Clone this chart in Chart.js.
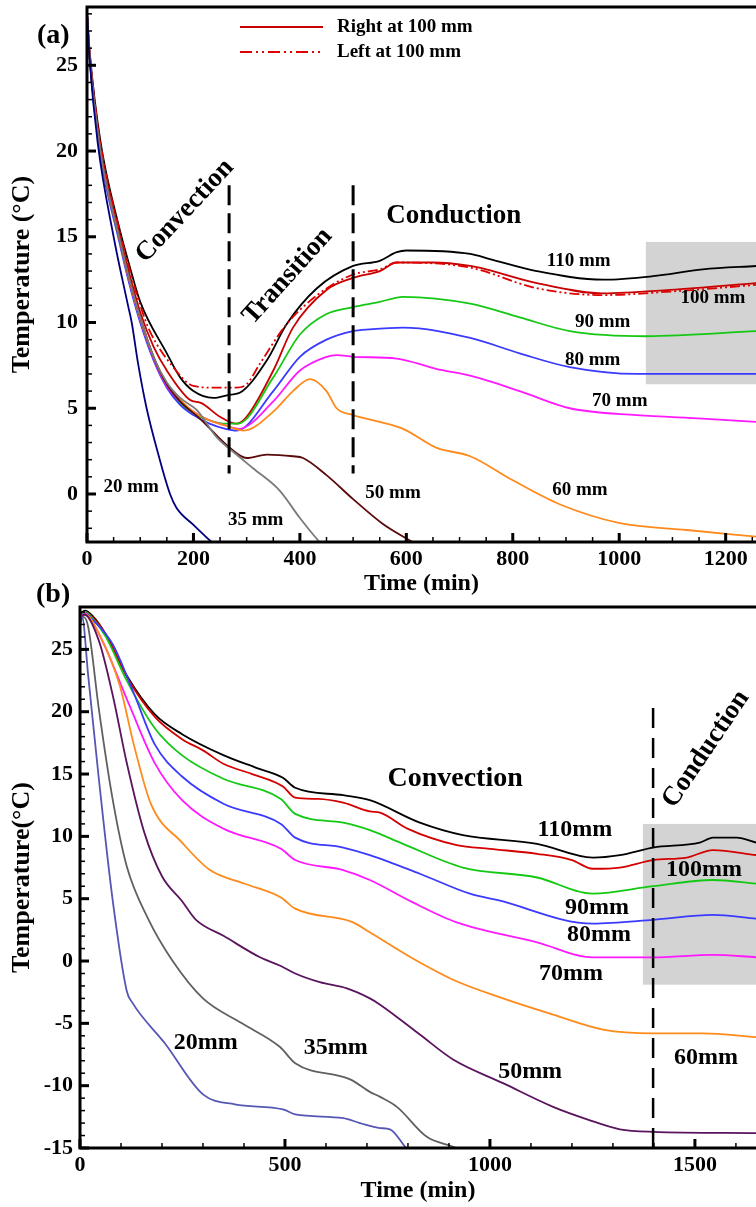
<!DOCTYPE html>
<html>
<head>
<meta charset="utf-8">
<script src="https://cdn.jsdelivr.net/npm/chart.js@4/dist/chart.umd.min.js"></script>
<style>
  body { margin: 0; background: #fff; }
  #wrap { position: relative; width: 756px; height: 1207px; overflow: hidden; background: #fff; }
  canvas { position: absolute; left: 0; }
  .tag { position: absolute; font: bold 28px "Liberation Serif", "Times New Roman", serif; line-height: 1; }
</style>
</head>
<body>
<div id="wrap">
  <canvas id="chartA" width="756" height="600" style="top:0"></canvas>
  <canvas id="chartB" width="756" height="607" style="top:600px"></canvas>
  <div class="tag" style="left:37px;top:20px">(a)</div>
  <div class="tag" style="left:36px;top:579px">(b)</div>
</div>
<script>
// ---- panel (a) data: time (min) / temperature (°C) ----
const a20Time = [0, 5, 20, 50, 77, 84, 96, 112, 135, 156, 168, 200, 234, 260];
const a20Temp = [28, 25.3, 20.5, 15.0, 11.0, 10.0, 7.6, 5.0, 2.2, 0, -0.8, -1.8, -2.8, -3.5];
const a35Time = [0, 5, 25, 60, 80, 100, 125, 150, 175, 206, 244, 281, 312, 362, 400, 437, 450];
const a35Temp = [28, 25.5, 20, 15, 12.5, 10.3, 8.0, 6.5, 5.6, 4.9, 3.3, 2.3, 1.5, 0.2, -1.4, -2.8, -3.2];
const a50Time = [0, 5, 25, 60, 80, 100, 125, 150, 175, 212, 268, 300, 338, 387, 406, 450, 500, 556, 612, 630];
const a50Temp = [28, 25.5, 20, 15, 12.5, 10.3, 8.0, 6.4, 5.4, 4.4, 2.7, 2.1, 2.3, 2.2, 2.1, 1.1, -0.3, -1.75, -2.8, -3.1];
const a60Time = [0, 5, 25, 60, 80, 100, 125, 150, 175, 200, 230, 260, 295, 350, 387, 419, 450, 469, 500, 550, 594, 656, 720, 800, 888, 1001, 1127, 1260];
const a60Temp = [28, 25.5, 20, 15, 12.4, 10.2, 8.0, 6.4, 5.5, 4.8, 4.3, 4.0, 3.7, 4.8, 6.0, 6.7, 6.0, 5.0, 4.6, 4.2, 3.8, 2.7, 2.2, 0.8, -0.6, -1.7, -2.1, -2.5];
const a70Time = [0, 5, 25, 60, 80, 100, 125, 150, 175, 200, 230, 260, 285, 350, 400, 450, 469, 500, 582, 656, 720, 813, 907, 1033, 1157, 1260];
const a70Temp = [28, 25.5, 20, 15, 12.4, 10.2, 7.9, 6.3, 5.4, 4.8, 4.3, 4.0, 3.8, 5.4, 7.2, 8.0, 8.1, 8.0, 7.9, 7.3, 6.9, 6.0, 5.0, 4.6, 4.4, 4.2];
const a80Time = [0, 5, 25, 60, 80, 100, 125, 150, 175, 200, 230, 260, 281, 350, 400, 450, 500, 531, 594, 720, 813, 907, 1033, 1260];
const a80Temp = [28, 25.4, 19.8, 14.8, 12.2, 10.0, 7.8, 6.2, 5.2, 4.6, 4.1, 3.8, 3.7, 6.0, 8.0, 9.0, 9.5, 9.6, 9.7, 9.1, 8.2, 7.4, 7.0, 7.0];
const a90Time = [0, 5, 25, 60, 80, 100, 125, 150, 175, 200, 230, 260, 283, 350, 400, 450, 500, 550, 594, 720, 813, 907, 1052, 1260];
const a90Temp = [28, 25.5, 20, 15, 12.4, 10.2, 7.9, 6.3, 5.3, 4.7, 4.3, 4.1, 4.1, 6.8, 9.3, 10.5, 10.9, 11.2, 11.5, 11.1, 10.3, 9.5, 9.2, 9.5];
const a100RTime = [0, 5, 25, 60, 80, 100, 125, 150, 193, 215, 250, 281, 300, 350, 387, 450, 500, 550, 582, 650, 720, 750, 845, 970, 1095, 1260];
const a100RTemp = [28, 25.6, 20.3, 15.3, 12.8, 10.6, 8.6, 7.2, 5.5, 5.3, 4.5, 4.1, 4.5, 7.2, 9.7, 11.9, 12.6, 13.0, 13.5, 13.5, 13.3, 13.1, 12.3, 11.7, 11.9, 12.3];
const a100LTime = [0, 5, 25, 60, 80, 100, 118, 162, 200, 240, 280, 300, 325, 375, 437, 500, 550, 582, 720, 845, 970, 1095, 1260];
const a100LTemp = [28, 25.7, 20.5, 15.5, 13.1, 11.0, 9.5, 7.4, 6.3, 6.2, 6.2, 6.4, 7.6, 9.9, 11.7, 12.8, 13.1, 13.5, 13.2, 12.0, 11.6, 11.8, 12.2];
const a110Time = [0, 5, 25, 60, 80, 100, 150, 175, 200, 237, 270, 287, 338, 375, 432, 500, 550, 582, 600, 720, 757, 845, 970, 1063, 1157, 1260];
const a110Temp = [28, 25.8, 20.6, 15.6, 13.3, 11.2, 8.2, 6.8, 6.0, 5.6, 5.8, 5.9, 7.8, 9.9, 12.0, 13.3, 13.6, 14.1, 14.2, 14.0, 13.7, 13.0, 12.5, 12.7, 13.1, 13.3];

// ---- panel (b) data ----
const b20Time = [0, 5, 20, 46, 80, 114, 127, 207, 300, 378, 495, 525, 642, 683, 732, 756, 793, 805];
const b20Temp = [27.4, 27.6, 22.9, 14.6, 4.8, -2.4, -3.3, -6.6, -10.7, -11.5, -11.9, -12.3, -12.6, -13.0, -13.4, -13.5, -14.9, -15.4];
const b35Time = [0, 8, 20, 46, 80, 114, 166, 224, 300, 395, 488, 525, 659, 707, 732, 773, 846, 910, 940];
const b35Temp = [27.0, 27.6, 26.8, 20.2, 12.9, 7.6, 3.4, 0.1, -3.0, -5.0, -6.9, -8.2, -9.5, -10.5, -10.9, -11.7, -14.1, -14.9, -15.3];
const b50Time = [0, 10, 46, 80, 114, 156, 200, 249, 283, 351, 439, 490, 525, 585, 651, 707, 732, 829, 910, 1032, 1154, 1237, 1317, 1398, 1650];
const b50Temp = [27.2, 27.8, 25.7, 21.3, 15.9, 10.4, 6.8, 4.8, 3.3, 2.0, 0.3, -0.4, -1.0, -1.7, -2.2, -3.0, -3.5, -5.9, -7.9, -9.8, -11.7, -12.7, -13.5, -13.7, -13.8];
const b60Time = [0, 12, 50, 97, 131, 173, 249, 317, 402, 490, 525, 666, 707, 812, 910, 1032, 1154, 1276, 1398, 1520, 1650];
const b60Temp = [27.3, 27.8, 26.0, 22.1, 17.4, 12.6, 9.5, 7.3, 6.2, 5.1, 4.2, 3.1, 2.3, 0.2, -1.5, -3.0, -4.3, -5.5, -5.8, -5.8, -6.1];
const b70Time = [0, 12, 30, 60, 122, 182, 249, 351, 490, 525, 642, 707, 812, 919, 1115, 1251, 1398, 1544, 1650];
const b70Temp = [27.4, 27.9, 27.2, 25.3, 20.4, 15.9, 12.9, 10.6, 9.0, 8.1, 7.3, 6.5, 4.7, 3.1, 1.5, 0.3, 0.3, 0.5, 0.3];
const b80Time = [0, 12, 30, 80, 131, 182, 249, 351, 490, 525, 642, 707, 829, 951, 1017, 1251, 1398, 1544, 1650];
const b80Temp = [27.5, 27.9, 27.4, 25.4, 21.5, 17.4, 14.8, 12.6, 11.0, 9.9, 9.1, 8.5, 7.0, 5.4, 4.9, 3.0, 3.3, 3.7, 3.4];
const b90Time = [0, 12, 30, 63, 114, 182, 249, 351, 490, 525, 642, 707, 788, 934, 1115, 1251, 1398, 1544, 1650];
const b90Temp = [27.6, 28.0, 27.5, 26.0, 22.5, 18.7, 16.5, 14.6, 13.0, 11.8, 11.1, 10.5, 9.4, 7.5, 6.7, 5.4, 6.0, 6.5, 6.2];
const b100Time = [0, 12, 30, 63, 114, 182, 249, 300, 351, 420, 495, 525, 580, 642, 707, 732, 800, 919, 1000, 1115, 1200, 1251, 1317, 1398, 1480, 1544, 1650];
const b100Temp = [27.7, 28.0, 27.6, 26.2, 22.8, 19.6, 17.8, 16.9, 15.8, 15.0, 14.0, 13.1, 13.0, 12.7, 12.0, 11.9, 10.6, 9.3, 9.0, 8.6, 8.1, 7.4, 7.5, 8.1, 8.3, 8.9, 8.5];
const b110Time = [0, 12, 30, 63, 114, 182, 249, 351, 430, 495, 525, 642, 707, 829, 934, 1115, 1251, 1317, 1398, 1512, 1544, 1602, 1650];
const b110Temp = [27.8, 28.1, 27.7, 26.2, 22.9, 19.8, 18.2, 16.5, 15.5, 14.7, 13.9, 13.3, 12.9, 11.1, 10.1, 9.4, 8.3, 8.5, 9.1, 9.5, 9.9, 9.9, 9.5];

// tick labels
const xTicksA = [0, 200, 400, 600, 800, 1000, 1200];
const yTicksA = [0, 5, 10, 15, 20, 25];
const xTicksB = [0, 500, 1000, 1500];
const yTicksB = [-15, -10, -5, 0, 5, 10, 15, 20, 25];

const serif = '"Liberation Serif", "Times New Roman", serif';

const pts = (ts, vs) => ts.map((t, i) => ({ x: t, y: vs[i] }));

const line = (label, ts, vs, color, dash) => ({
  label: label,
  data: pts(ts, vs),
  borderColor: color,
  borderWidth: 1.8,
  borderDash: dash || [],
  pointRadius: 0,
  cubicInterpolationMode: 'monotone',
  fill: false,
});

// draws gray box, dashed phase lines, inward ticks, frame, labels
const decor = {
  id: 'decor',
  beforeDatasetsDraw(chart, args, o) {
    const { ctx, chartArea: a, scales: { x, y } } = chart;
    const b = o.box;
    const x0 = x.getPixelForValue(b[0]);
    const y0 = y.getPixelForValue(b[3]);
    const y1 = y.getPixelForValue(b[2]);
    ctx.save();
    ctx.fillStyle = '#d3d3d3';
    ctx.fillRect(x0, y0, a.right - x0, y1 - y0);
    ctx.restore();
  },
  afterDatasetsDraw(chart, args, o) {
    const { ctx, chartArea: a, scales: { x, y } } = chart;
    ctx.save();
    // phase lines
    ctx.strokeStyle = '#000';
    ctx.lineWidth = o.phaseWidth;
    ctx.setLineDash(o.phaseDash);
    o.phases.forEach(p => {
      ctx.beginPath();
      ctx.moveTo(x.getPixelForValue(p.t), y.getPixelForValue(p.top));
      ctx.lineTo(x.getPixelForValue(p.t), y.getPixelForValue(p.bottom));
      ctx.stroke();
    });
    ctx.setLineDash([]);

    // ticks (inside)
    const tick = (isX, v, len, w) => {
      ctx.lineWidth = w;
      ctx.beginPath();
      if (isX) {
        const px = x.getPixelForValue(v);
        if (px > a.right) return;
        ctx.moveTo(px, a.bottom);
        ctx.lineTo(px, a.bottom - len);
      } else {
        const py = y.getPixelForValue(v);
        if (py < a.top) return;
        ctx.moveTo(a.left, py);
        ctx.lineTo(a.left + len, py);
      }
      ctx.stroke();
    };
    for (let v = 0; v <= x.max; v += o.xMinor) tick(true, v, 5, 1.5);
    for (let v = Math.ceil(y.min); v <= y.max; v += 1) tick(false, v, 5, 1.5);
    o.xTicks.forEach(v => tick(true, v, 9, 3));
    o.yTicks.forEach(v => tick(false, v, 9, 3));

    // frame
    ctx.lineWidth = 3;
    ctx.beginPath();
    ctx.moveTo(a.right + 2, a.top);
    ctx.lineTo(a.left, a.top);
    ctx.lineTo(a.left, a.bottom);
    ctx.lineTo(a.right + 2, a.bottom);
    ctx.stroke();

    // text labels
    ctx.fillStyle = '#000';
    ctx.textAlign = 'center';
    ctx.textBaseline = 'middle';
    o.notes.forEach(n => {
      ctx.save();
      ctx.font = 'bold ' + n.size + 'px ' + serif;
      ctx.translate(x.getPixelForValue(n.t), y.getPixelForValue(n.v));
      ctx.rotate((n.rot || 0) * Math.PI / 180);
      ctx.fillText(n.text, 0, 0);
      ctx.restore();
    });

    // legend
    if (o.legend) {
      o.legend.forEach((l, i) => {
        const ly = 27 + i * 25;
        ctx.strokeStyle = l.color;
        ctx.lineWidth = 2;
        ctx.setLineDash(l.dash);
        ctx.beginPath();
        ctx.moveTo(240, ly);
        ctx.lineTo(323, ly);
        ctx.stroke();
        ctx.setLineDash([]);
        ctx.textAlign = 'left';
        ctx.font = 'bold 19px ' + serif;
        ctx.fillText(l.text, 337, ly);
      });
    }
    ctx.restore();
  }
};

function makeOptions(cfg) {
  return {
    responsive: false,
    animation: false,
    layout: { padding: { top: 7, left: 0, right: 0, bottom: 0 } },
    plugins: {
      legend: { display: false },
      tooltip: { enabled: false },
      decor: cfg.decor,
    },
    scales: {
      x: {
        type: 'linear',
        min: 0,
        max: cfg.xMax,
        grid: { display: false, drawTicks: false },
        border: { display: false },
        ticks: { color: '#000', padding: cfg.xPad, callback: v => String(v),
                 font: { family: serif, weight: 'bold', size: cfg.tickSize } },
        title: { display: true, text: 'Time (min)', color: '#000', padding: { top: 0, bottom: 2 },
                 font: { family: serif, weight: 'bold', size: 24 } },
        afterBuildTicks: s => { s.ticks = cfg.xTicks.map(v => ({ value: v })); },
        afterFit: s => { s.height = cfg.xHeight; s.paddingLeft = 0; s.paddingRight = 0; },
      },
      y: {
        min: cfg.yMin,
        max: cfg.yMax,
        grid: { display: false, drawTicks: false },
        border: { display: false },
        ticks: { color: '#000', padding: cfg.yPad, callback: v => String(v),
                 font: { family: serif, weight: 'bold', size: cfg.tickSize } },
        title: { display: true, text: cfg.yTitle, color: '#000', padding: { top: 7, bottom: 0 },
                 font: { family: serif, weight: 'bold', size: 26 } },
        afterBuildTicks: s => { s.ticks = cfg.yTicks.map(v => ({ value: v })); },
        afterFit: s => { s.width = cfg.yWidth; s.paddingTop = 0; s.paddingBottom = 0; },
      },
    },
  };
}

new Chart(document.getElementById('chartA'), {
  type: 'line',
  data: {
    datasets: [
      line('20 mm', a20Time, a20Temp, '#000080'),
      line('35 mm', a35Time, a35Temp, '#7a7a7a'),
      line('50 mm', a50Time, a50Temp, '#5a0a0a'),
      line('60 mm', a60Time, a60Temp, '#ff8a1c'),
      line('70 mm', a70Time, a70Temp, '#ff19ff'),
      line('80 mm', a80Time, a80Temp, '#3a3aff'),
      line('90 mm', a90Time, a90Temp, '#14c814'),
      line('Left at 100 mm', a100LTime, a100LTemp, '#e00000', [10, 3, 2, 3, 2, 3]),
      line('Right at 100 mm', a100RTime, a100RTemp, '#c80000'),
      line('110 mm', a110Time, a110Temp, '#000000'),
    ],
  },
  options: makeOptions({
    xMax: 1257, yMin: -2.8, yMax: 28.4,
    xTicks: xTicksA, yTicks: yTicksA,
    xHeight: 58, yWidth: 87, xPad: 4, yPad: 9, tickSize: 22,
    yTitle: 'Temperature (°C)',
    decor: {
      box: [1050, 1257, 6.4, 14.7],
      phaseWidth: 3, phaseDash: [20, 8],
      phases: [{ t: 267, top: 18.0, bottom: 1.2 }, { t: 500, top: 18.0, bottom: 1.2 }],
      xMinor: 50, xTicks: xTicksA, yTicks: yTicksA,
      notes: [
        { text: 'Convection', t: 184, v: 16.5, size: 27, rot: -47 },
        { text: 'Transition', t: 377, v: 12.7, size: 27, rot: -48 },
        { text: 'Conduction', t: 689, v: 16.2, size: 27 },
        { text: '110 mm', t: 924, v: 13.6, size: 19 },
        { text: '100 mm', t: 1176, v: 11.4, size: 19 },
        { text: '90 mm', t: 969, v: 10.0, size: 19 },
        { text: '80 mm', t: 950, v: 7.8, size: 19 },
        { text: '70 mm', t: 1001, v: 5.4, size: 19 },
        { text: '60 mm', t: 926, v: 0.2, size: 19 },
        { text: '50 mm', t: 575, v: 0.06, size: 19 },
        { text: '35 mm', t: 317, v: -1.5, size: 19 },
        { text: '20 mm', t: 83, v: 0.4, size: 19 },
      ],
      legend: [
        { text: 'Right at 100 mm', color: '#c80000', dash: [] },
        { text: 'Left at 100 mm', color: '#e00000', dash: [12, 4, 2, 4, 2, 4] },
      ],
    },
  }),
  plugins: [decor],
});

new Chart(document.getElementById('chartB'), {
  type: 'line',
  data: {
    datasets: [
      line('20mm', b20Time, b20Temp, '#5656b4'),
      line('35mm', b35Time, b35Temp, '#606060'),
      line('50mm', b50Time, b50Temp, '#5a145e'),
      line('60mm', b60Time, b60Temp, '#ff8a1c'),
      line('70mm', b70Time, b70Temp, '#ff19ff'),
      line('80mm', b80Time, b80Temp, '#3a3aff'),
      line('90mm', b90Time, b90Temp, '#14c814'),
      line('100mm', b100Time, b100Temp, '#d40000'),
      line('110mm', b110Time, b110Temp, '#000000'),
    ],
  },
  options: makeOptions({
    xMax: 1649, yMin: -15, yMax: 28.4,
    xTicks: xTicksB, yTicks: yTicksB,
    xHeight: 59, yWidth: 80, xPad: 4, yPad: 7, tickSize: 22,
    yTitle: 'Temperature(°C)',
    decor: {
      box: [1373, 1649, -1.9, 11.0],
      phaseWidth: 2.5, phaseDash: [20, 10],
      phases: [{ t: 1398, top: 20.3, bottom: -15 }],
      xMinor: 100, xTicks: xTicksB, yTicks: yTicksB,
      notes: [
        { text: 'Convection', t: 915, v: 14.6, size: 28 },
        { text: 'Conduction', t: 1527, v: 17.0, size: 27, rot: -56 },
        { text: '110mm', t: 1207, v: 10.5, size: 24 },
        { text: '100mm', t: 1522, v: 7.3, size: 24 },
        { text: '90mm', t: 1261, v: 4.3, size: 24 },
        { text: '80mm', t: 1266, v: 2.1, size: 24 },
        { text: '70mm', t: 1198, v: -1.0, size: 24 },
        { text: '60mm', t: 1527, v: -7.8, size: 24 },
        { text: '50mm', t: 1098, v: -8.9, size: 24 },
        { text: '35mm', t: 624, v: -7.0, size: 24 },
        { text: '20mm', t: 307, v: -6.6, size: 24 },
      ],
    },
  }),
  plugins: [decor],
});
</script>
</body>
</html>
